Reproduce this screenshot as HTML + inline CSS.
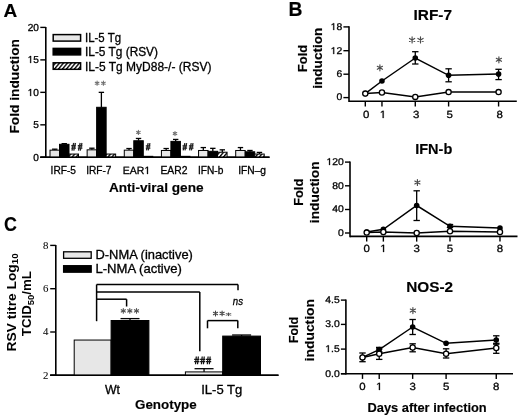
<!DOCTYPE html>
<html><head><meta charset="utf-8"><style>
html,body{margin:0;padding:0;background:#fff;}
svg{display:block;will-change:transform;}
svg{font-family:"Liberation Sans",sans-serif;}
</style></head><body>
<svg width="520" height="416" viewBox="0 0 520 416">
<defs>
<pattern id="hatch" patternUnits="userSpaceOnUse" width="3.05" height="3.05" patternTransform="rotate(40)">
<rect width="3.05" height="3.05" fill="#fff"/><rect width="1.35" height="3.05" fill="#000"/>
</pattern>
</defs>
<rect width="520" height="416" fill="#fff"/>
<text x="3.60" y="17.00" font-family="Liberation Sans" font-size="19" font-weight="bold" font-style="normal" text-anchor="start" fill="#000" stroke="#000" stroke-width="0.15">A</text>
<line x1="45.80" y1="27.00" x2="45.80" y2="158.05" stroke="#000" stroke-width="1.6"/>
<line x1="40.30" y1="157.30" x2="269.50" y2="157.30" stroke="#000" stroke-width="1.6"/>
<line x1="40.30" y1="27.40" x2="45.80" y2="27.40" stroke="#000" stroke-width="1.4"/>
<g transform="translate(38.90,31.00) scale(1.0,1)"><text x="-11.234" y="0" font-family="Liberation Sans" font-size="10.1" fill="#000" stroke="#000" stroke-width="0.300" text-rendering="geometricPrecision">20</text></g>
<line x1="40.30" y1="59.88" x2="45.80" y2="59.88" stroke="#000" stroke-width="1.4"/>
<g transform="translate(38.90,63.00) scale(1.0,1)"><path d="M-8.694,0.000L-8.694,-6.100L-10.263,-4.981L-10.263,-5.819L-8.621,-6.949L-7.802,-6.949L-7.802,0.000Z" fill="#000" stroke="#000" stroke-width="0.300"/><text x="-5.617" y="0" font-family="Liberation Sans" font-size="10.1" fill="#000" stroke="#000" stroke-width="0.300" text-rendering="geometricPrecision">5</text></g>
<line x1="40.30" y1="92.35" x2="45.80" y2="92.35" stroke="#000" stroke-width="1.4"/>
<g transform="translate(38.90,96.00) scale(1.0,1)"><path d="M-8.694,0.000L-8.694,-6.100L-10.263,-4.981L-10.263,-5.819L-8.621,-6.949L-7.802,-6.949L-7.802,0.000Z" fill="#000" stroke="#000" stroke-width="0.300"/><text x="-5.617" y="0" font-family="Liberation Sans" font-size="10.1" fill="#000" stroke="#000" stroke-width="0.300" text-rendering="geometricPrecision">0</text></g>
<line x1="40.30" y1="124.83" x2="45.80" y2="124.83" stroke="#000" stroke-width="1.4"/>
<g transform="translate(38.90,128.00) scale(1.0,1)"><text x="-5.617" y="0" font-family="Liberation Sans" font-size="10.1" fill="#000" stroke="#000" stroke-width="0.300" text-rendering="geometricPrecision">5</text></g>
<line x1="40.30" y1="157.30" x2="45.80" y2="157.30" stroke="#000" stroke-width="1.4"/>
<g transform="translate(38.90,161.00) scale(1.0,1)"><text x="-5.617" y="0" font-family="Liberation Sans" font-size="10.1" fill="#000" stroke="#000" stroke-width="0.300" text-rendering="geometricPrecision">0</text></g>
<rect x="53.20" y="34.60" width="27.40" height="6.50" fill="#e7e7e7" stroke="#000" stroke-width="1.5"/>
<rect x="53.20" y="48.40" width="27.40" height="6.50" fill="#000" stroke="#000" stroke-width="1.5"/>
<rect x="53.20" y="62.80" width="27.40" height="6.50" fill="url(#hatch)" stroke="#000" stroke-width="1.5"/>
<text x="85.00" y="42.30" font-family="Liberation Sans" font-size="12" font-weight="normal" font-style="normal" text-anchor="start" fill="#000" textLength="36" lengthAdjust="spacingAndGlyphs" stroke="#000" stroke-width="0.3">IL-5 Tg</text>
<text x="85.00" y="56.30" font-family="Liberation Sans" font-size="12" font-weight="normal" font-style="normal" text-anchor="start" fill="#000" textLength="73" lengthAdjust="spacingAndGlyphs" stroke="#000" stroke-width="0.3">IL-5 Tg (RSV)</text>
<text x="85.00" y="70.60" font-family="Liberation Sans" font-size="12" font-weight="normal" font-style="normal" text-anchor="start" fill="#000" textLength="126.4" lengthAdjust="spacingAndGlyphs" stroke="#000" stroke-width="0.3">IL-5 Tg MyD88-/- (RSV)</text>
<line x1="54.75" y1="150.16" x2="54.75" y2="149.18" stroke="#000" stroke-width="1.3"/>
<line x1="52.05" y1="149.18" x2="57.45" y2="149.18" stroke="#000" stroke-width="1.3"/>
<rect x="50.00" y="150.16" width="9.50" height="7.14" fill="#e7e7e7" stroke="#000" stroke-width="1.0"/>
<line x1="64.25" y1="144.31" x2="64.25" y2="143.66" stroke="#000" stroke-width="1.3"/>
<line x1="61.55" y1="143.66" x2="66.95" y2="143.66" stroke="#000" stroke-width="1.3"/>
<rect x="59.50" y="144.31" width="9.50" height="12.99" fill="#000" stroke="#000" stroke-width="1.0"/>
<rect x="69.00" y="154.05" width="9.50" height="3.25" fill="url(#hatch)" stroke="#000" stroke-width="1.0"/>
<line x1="91.89" y1="149.83" x2="91.89" y2="148.21" stroke="#000" stroke-width="1.3"/>
<line x1="89.19" y1="148.21" x2="94.59" y2="148.21" stroke="#000" stroke-width="1.3"/>
<rect x="87.14" y="149.83" width="9.50" height="7.47" fill="#e7e7e7" stroke="#000" stroke-width="1.0"/>
<line x1="101.39" y1="107.29" x2="101.39" y2="92.35" stroke="#000" stroke-width="1.3"/>
<line x1="98.69" y1="92.35" x2="104.09" y2="92.35" stroke="#000" stroke-width="1.3"/>
<rect x="96.64" y="107.29" width="9.50" height="50.01" fill="#000" stroke="#000" stroke-width="1.0"/>
<rect x="106.14" y="154.05" width="9.50" height="3.25" fill="url(#hatch)" stroke="#000" stroke-width="1.0"/>
<line x1="129.03" y1="150.16" x2="129.03" y2="148.53" stroke="#000" stroke-width="1.3"/>
<line x1="126.33" y1="148.53" x2="131.73" y2="148.53" stroke="#000" stroke-width="1.3"/>
<rect x="124.28" y="150.16" width="9.50" height="7.14" fill="#e7e7e7" stroke="#000" stroke-width="1.0"/>
<line x1="138.53" y1="140.74" x2="138.53" y2="138.46" stroke="#000" stroke-width="1.3"/>
<line x1="135.83" y1="138.46" x2="141.23" y2="138.46" stroke="#000" stroke-width="1.3"/>
<rect x="133.78" y="140.74" width="9.50" height="16.56" fill="#000" stroke="#000" stroke-width="1.0"/>
<rect x="143.28" y="156.33" width="9.50" height="0.97" fill="url(#hatch)" stroke="#000" stroke-width="1.0"/>
<line x1="166.17" y1="150.48" x2="166.17" y2="148.53" stroke="#000" stroke-width="1.3"/>
<line x1="163.47" y1="148.53" x2="168.87" y2="148.53" stroke="#000" stroke-width="1.3"/>
<rect x="161.42" y="150.48" width="9.50" height="6.82" fill="#e7e7e7" stroke="#000" stroke-width="1.0"/>
<line x1="175.67" y1="141.39" x2="175.67" y2="139.44" stroke="#000" stroke-width="1.3"/>
<line x1="172.97" y1="139.44" x2="178.37" y2="139.44" stroke="#000" stroke-width="1.3"/>
<rect x="170.92" y="141.39" width="9.50" height="15.91" fill="#000" stroke="#000" stroke-width="1.0"/>
<rect x="180.42" y="156.33" width="9.50" height="0.97" fill="url(#hatch)" stroke="#000" stroke-width="1.0"/>
<line x1="203.31" y1="150.48" x2="203.31" y2="147.56" stroke="#000" stroke-width="1.3"/>
<line x1="200.61" y1="147.56" x2="206.01" y2="147.56" stroke="#000" stroke-width="1.3"/>
<rect x="198.56" y="150.48" width="9.50" height="6.82" fill="#e7e7e7" stroke="#000" stroke-width="1.0"/>
<line x1="212.81" y1="151.32" x2="212.81" y2="148.34" stroke="#000" stroke-width="1.3"/>
<line x1="210.11" y1="148.34" x2="215.51" y2="148.34" stroke="#000" stroke-width="1.3"/>
<rect x="208.06" y="151.32" width="9.50" height="5.98" fill="#000" stroke="#000" stroke-width="1.0"/>
<line x1="222.31" y1="152.23" x2="222.31" y2="149.83" stroke="#000" stroke-width="1.3"/>
<line x1="219.61" y1="149.83" x2="225.01" y2="149.83" stroke="#000" stroke-width="1.3"/>
<rect x="217.56" y="152.23" width="9.50" height="5.07" fill="url(#hatch)" stroke="#000" stroke-width="1.0"/>
<line x1="240.45" y1="150.48" x2="240.45" y2="147.56" stroke="#000" stroke-width="1.3"/>
<line x1="237.75" y1="147.56" x2="243.15" y2="147.56" stroke="#000" stroke-width="1.3"/>
<rect x="235.70" y="150.48" width="9.50" height="6.82" fill="#e7e7e7" stroke="#000" stroke-width="1.0"/>
<line x1="249.95" y1="151.78" x2="249.95" y2="150.48" stroke="#000" stroke-width="1.3"/>
<line x1="247.25" y1="150.48" x2="252.65" y2="150.48" stroke="#000" stroke-width="1.3"/>
<rect x="245.20" y="151.78" width="9.50" height="5.52" fill="#000" stroke="#000" stroke-width="1.0"/>
<line x1="259.45" y1="154.05" x2="259.45" y2="152.43" stroke="#000" stroke-width="1.3"/>
<line x1="256.75" y1="152.43" x2="262.15" y2="152.43" stroke="#000" stroke-width="1.3"/>
<rect x="254.70" y="154.05" width="9.50" height="3.25" fill="url(#hatch)" stroke="#000" stroke-width="1.0"/>
<line x1="40.30" y1="157.30" x2="269.50" y2="157.30" stroke="#000" stroke-width="1.6"/>
<path d="M97.10,81.10L97.10,85.30M95.28,82.15L98.92,84.25M95.28,84.25L98.92,82.15" stroke="#707070" stroke-width="1.1" stroke-linecap="round"/>
<path d="M103.40,81.10L103.40,85.30M101.58,82.15L105.22,84.25M101.58,84.25L105.22,82.15" stroke="#707070" stroke-width="1.1" stroke-linecap="round"/>
<path d="M138.40,130.40L138.40,134.40M136.67,131.40L140.13,133.40M136.67,133.40L140.13,131.40" stroke="#707070" stroke-width="1.1" stroke-linecap="round"/>
<path d="M175.00,131.60L175.00,135.60M173.27,132.60L176.73,134.60M173.27,134.60L176.73,132.60" stroke="#707070" stroke-width="1.1" stroke-linecap="round"/>
<path d="M73.67,143.00L71.97,150.60M75.46,143.00L73.76,150.60M71.30,145.74L75.90,145.74M71.30,148.17L75.90,148.17" stroke="#222" stroke-width="1.3" fill="none"/>
<path d="M80.17,143.00L78.47,150.60M81.96,143.00L80.26,150.60M77.80,145.74L82.40,145.74M77.80,148.17L82.40,148.17" stroke="#222" stroke-width="1.3" fill="none"/>
<path d="M148.17,143.20L146.47,150.40M149.96,143.20L148.26,150.40M145.80,145.79L150.40,145.79M145.80,148.10L150.40,148.10" stroke="#222" stroke-width="1.3" fill="none"/>
<path d="M184.87,143.20L183.17,150.40M186.66,143.20L184.96,150.40M182.50,145.79L187.10,145.79M182.50,148.10L187.10,148.10" stroke="#222" stroke-width="1.3" fill="none"/>
<path d="M191.27,143.20L189.57,150.40M193.06,143.20L191.36,150.40M188.90,145.79L193.50,145.79M188.90,148.10L193.50,148.10" stroke="#222" stroke-width="1.3" fill="none"/>
<text x="50.60" y="174.40" font-family="Liberation Sans" font-size="10.2" font-weight="normal" font-style="normal" text-anchor="start" fill="#000" textLength="25.4" lengthAdjust="spacingAndGlyphs" stroke="#000" stroke-width="0.3">IRF-5</text>
<text x="86.20" y="174.40" font-family="Liberation Sans" font-size="10.2" font-weight="normal" font-style="normal" text-anchor="start" fill="#000" textLength="25.3" lengthAdjust="spacingAndGlyphs" stroke="#000" stroke-width="0.3">IRF-7</text>
<text x="160.40" y="174.40" font-family="Liberation Sans" font-size="10.2" font-weight="normal" font-style="normal" text-anchor="start" fill="#000" textLength="27" lengthAdjust="spacingAndGlyphs" stroke="#000" stroke-width="0.3">EAR2</text>
<text x="198.00" y="174.40" font-family="Liberation Sans" font-size="10.2" font-weight="normal" font-style="normal" text-anchor="start" fill="#000" textLength="25.4" lengthAdjust="spacingAndGlyphs" stroke="#000" stroke-width="0.3">IFN-b</text>
<text x="238.20" y="174.40" font-family="Liberation Sans" font-size="10.2" font-weight="normal" font-style="normal" text-anchor="start" fill="#000" textLength="27.8" lengthAdjust="spacingAndGlyphs" stroke="#000" stroke-width="0.3">IFN&#8211;g</text>
<g transform="translate(122.80,174.00) scale(1.0,1)"><text x="0.000" y="0" font-family="Liberation Sans" font-size="10.5" fill="#000" stroke="#000" stroke-width="0.300" text-rendering="geometricPrecision">EAR</text><path d="M24.230,0.000L24.230,-6.342L22.600,-5.178L22.600,-6.050L24.307,-7.224L25.158,-7.224L25.158,0.000Z" fill="#000" stroke="#000" stroke-width="0.300"/></g>
<text x="108.90" y="192.30" font-family="Liberation Sans" font-size="12.6" font-weight="bold" font-style="normal" text-anchor="start" fill="#000" textLength="94.7" lengthAdjust="spacingAndGlyphs" stroke="#000" stroke-width="0.15">Anti-viral gene</text>
<text transform="translate(19.20,86.30) rotate(-90)" x="0" y="0" font-family="Liberation Sans" font-size="13.7" font-weight="bold" font-style="normal" text-anchor="middle" fill="#000" textLength="94.5" lengthAdjust="spacingAndGlyphs" stroke="#000" stroke-width="0.15">Fold induction</text>
<text x="288.60" y="15.90" font-family="Liberation Sans" font-size="19.3" font-weight="bold" font-style="normal" text-anchor="start" fill="#000" stroke="#000" stroke-width="0.15">B</text>
<line x1="349.00" y1="26.30" x2="349.00" y2="102.05" stroke="#000" stroke-width="1.6"/>
<line x1="349.00" y1="101.30" x2="516.80" y2="101.30" stroke="#000" stroke-width="1.6"/>
<line x1="343.40" y1="26.90" x2="349.00" y2="26.90" stroke="#000" stroke-width="1.4"/>
<g transform="translate(342.20,30.00) scale(1.07,1)"><path d="M-8.350,0.000L-8.350,-5.859L-9.856,-4.784L-9.856,-5.589L-8.279,-6.673L-7.493,-6.673L-7.493,0.000Z" fill="#000" stroke="#000" stroke-width="0.280"/><text x="-5.395" y="0" font-family="Liberation Sans" font-size="9.7" fill="#000" stroke="#000" stroke-width="0.280" text-rendering="geometricPrecision">8</text></g>
<line x1="343.40" y1="50.70" x2="349.00" y2="50.70" stroke="#000" stroke-width="1.4"/>
<g transform="translate(342.20,54.00) scale(1.07,1)"><path d="M-8.350,0.000L-8.350,-5.859L-9.856,-4.784L-9.856,-5.589L-8.279,-6.673L-7.493,-6.673L-7.493,0.000Z" fill="#000" stroke="#000" stroke-width="0.280"/><text x="-5.395" y="0" font-family="Liberation Sans" font-size="9.7" fill="#000" stroke="#000" stroke-width="0.280" text-rendering="geometricPrecision">2</text></g>
<line x1="343.40" y1="74.20" x2="349.00" y2="74.20" stroke="#000" stroke-width="1.4"/>
<g transform="translate(342.20,77.00) scale(1.07,1)"><text x="-5.395" y="0" font-family="Liberation Sans" font-size="9.7" fill="#000" stroke="#000" stroke-width="0.280" text-rendering="geometricPrecision">6</text></g>
<line x1="343.40" y1="97.60" x2="349.00" y2="97.60" stroke="#000" stroke-width="1.4"/>
<g transform="translate(342.20,100.00) scale(1.07,1)"><text x="-5.395" y="0" font-family="Liberation Sans" font-size="9.7" fill="#000" stroke="#000" stroke-width="0.280" text-rendering="geometricPrecision">0</text></g>
<line x1="365.30" y1="101.30" x2="365.30" y2="106.50" stroke="#000" stroke-width="1.4"/>
<g transform="translate(366.30,118.00) scale(1.1,1)"><text x="-2.892" y="0" font-family="Liberation Sans" font-size="10.4" fill="#000" stroke="#000" stroke-width="0.273" text-rendering="geometricPrecision">0</text></g>
<line x1="381.96" y1="101.30" x2="381.96" y2="106.50" stroke="#000" stroke-width="1.4"/>
<g transform="translate(382.96,118.00) scale(1.1,1)"><path d="M-0.277,0.000L-0.277,-6.282L-1.892,-5.129L-1.892,-5.992L-0.201,-7.155L0.642,-7.155L0.642,0.000Z" fill="#000" stroke="#000" stroke-width="0.273"/></g>
<line x1="415.28" y1="101.30" x2="415.28" y2="106.50" stroke="#000" stroke-width="1.4"/>
<g transform="translate(416.28,118.00) scale(1.1,1)"><text x="-2.892" y="0" font-family="Liberation Sans" font-size="10.4" fill="#000" stroke="#000" stroke-width="0.273" text-rendering="geometricPrecision">3</text></g>
<line x1="448.60" y1="101.30" x2="448.60" y2="106.50" stroke="#000" stroke-width="1.4"/>
<g transform="translate(449.60,118.00) scale(1.1,1)"><text x="-2.892" y="0" font-family="Liberation Sans" font-size="10.4" fill="#000" stroke="#000" stroke-width="0.273" text-rendering="geometricPrecision">5</text></g>
<line x1="498.58" y1="101.30" x2="498.58" y2="106.50" stroke="#000" stroke-width="1.4"/>
<g transform="translate(499.58,118.00) scale(1.1,1)"><text x="-2.892" y="0" font-family="Liberation Sans" font-size="10.4" fill="#000" stroke="#000" stroke-width="0.273" text-rendering="geometricPrecision">8</text></g>
<text x="413.50" y="19.80" font-family="Liberation Sans" font-size="14.5" font-weight="bold" font-style="normal" text-anchor="start" fill="#000" textLength="38.5" lengthAdjust="spacingAndGlyphs" stroke="#000" stroke-width="0.15">IRF-7</text>
<text transform="translate(307.30,58.50) rotate(-90)" x="0" y="0" font-family="Liberation Sans" font-size="12.8" font-weight="bold" font-style="normal" text-anchor="middle" fill="#000" textLength="27.1" lengthAdjust="spacingAndGlyphs" stroke="#000" stroke-width="0.15">Fold</text>
<text transform="translate(322.30,58.20) rotate(-90)" x="0" y="0" font-family="Liberation Sans" font-size="12.8" font-weight="bold" font-style="normal" text-anchor="middle" fill="#000" textLength="61.2" lengthAdjust="spacingAndGlyphs" stroke="#000" stroke-width="0.15">induction</text>
<polyline points="365.30,93.60 381.96,92.50 415.28,96.90 448.60,92.10 498.58,92.10" fill="none" stroke="#000" stroke-width="1.5"/>
<polyline points="365.30,93.60 381.96,81.00 415.28,58.00 448.60,75.30 498.58,74.10" fill="none" stroke="#000" stroke-width="1.5"/>
<line x1="415.28" y1="51.70" x2="415.28" y2="64.00" stroke="#000" stroke-width="1.3"/>
<line x1="412.08" y1="51.70" x2="418.48" y2="51.70" stroke="#000" stroke-width="1.3"/>
<line x1="412.08" y1="64.00" x2="418.48" y2="64.00" stroke="#000" stroke-width="1.3"/>
<line x1="448.60" y1="68.80" x2="448.60" y2="81.80" stroke="#000" stroke-width="1.3"/>
<line x1="445.40" y1="68.80" x2="451.80" y2="68.80" stroke="#000" stroke-width="1.3"/>
<line x1="445.40" y1="81.80" x2="451.80" y2="81.80" stroke="#000" stroke-width="1.3"/>
<line x1="498.58" y1="69.30" x2="498.58" y2="79.60" stroke="#000" stroke-width="1.3"/>
<line x1="495.38" y1="69.30" x2="501.78" y2="69.30" stroke="#000" stroke-width="1.3"/>
<line x1="495.38" y1="79.60" x2="501.78" y2="79.60" stroke="#000" stroke-width="1.3"/>
<circle cx="365.30" cy="93.60" r="2.8" fill="#000"/>
<circle cx="381.96" cy="81.00" r="2.8" fill="#000"/>
<circle cx="415.28" cy="58.00" r="2.8" fill="#000"/>
<circle cx="448.60" cy="75.30" r="2.8" fill="#000"/>
<circle cx="498.58" cy="74.10" r="2.8" fill="#000"/>
<circle cx="365.30" cy="93.60" r="2.6" fill="#fff" stroke="#000" stroke-width="1.3"/>
<circle cx="381.96" cy="92.50" r="2.6" fill="#fff" stroke="#000" stroke-width="1.3"/>
<circle cx="415.28" cy="96.90" r="2.6" fill="#fff" stroke="#000" stroke-width="1.3"/>
<circle cx="448.60" cy="92.10" r="2.6" fill="#fff" stroke="#000" stroke-width="1.3"/>
<circle cx="498.58" cy="92.10" r="2.6" fill="#fff" stroke="#000" stroke-width="1.3"/>
<path d="M379.90,64.80L379.90,70.80M377.30,66.30L382.50,69.30M377.30,69.30L382.50,66.30" stroke="#4a4a4a" stroke-width="1.15" stroke-linecap="round"/>
<path d="M412.10,36.90L412.10,42.90M409.50,38.40L414.70,41.40M409.50,41.40L414.70,38.40" stroke="#4a4a4a" stroke-width="1.15" stroke-linecap="round"/>
<path d="M420.50,36.90L420.50,42.90M417.90,38.40L423.10,41.40M417.90,41.40L423.10,38.40" stroke="#4a4a4a" stroke-width="1.15" stroke-linecap="round"/>
<path d="M498.90,56.80L498.90,62.80M496.30,58.30L501.50,61.30M496.30,61.30L501.50,58.30" stroke="#4a4a4a" stroke-width="1.15" stroke-linecap="round"/>
<line x1="350.00" y1="161.50" x2="350.00" y2="237.15" stroke="#000" stroke-width="1.6"/>
<line x1="350.00" y1="236.40" x2="517.50" y2="236.40" stroke="#000" stroke-width="1.6"/>
<line x1="345.00" y1="162.10" x2="350.00" y2="162.10" stroke="#000" stroke-width="1.4"/>
<g transform="translate(343.80,165.00) scale(1.07,1)"><path d="M-13.745,0.000L-13.745,-5.859L-15.251,-4.784L-15.251,-5.589L-13.674,-6.673L-12.888,-6.673L-12.888,0.000Z" fill="#000" stroke="#000" stroke-width="0.280"/><text x="-10.789" y="0" font-family="Liberation Sans" font-size="9.7" fill="#000" stroke="#000" stroke-width="0.280" text-rendering="geometricPrecision">20</text></g>
<line x1="345.00" y1="185.80" x2="350.00" y2="185.80" stroke="#000" stroke-width="1.4"/>
<g transform="translate(343.80,189.00) scale(1.07,1)"><text x="-10.789" y="0" font-family="Liberation Sans" font-size="9.7" fill="#000" stroke="#000" stroke-width="0.280" text-rendering="geometricPrecision">80</text></g>
<line x1="345.00" y1="209.50" x2="350.00" y2="209.50" stroke="#000" stroke-width="1.4"/>
<g transform="translate(343.80,212.00) scale(1.07,1)"><text x="-10.789" y="0" font-family="Liberation Sans" font-size="9.7" fill="#000" stroke="#000" stroke-width="0.280" text-rendering="geometricPrecision">40</text></g>
<line x1="345.00" y1="233.00" x2="350.00" y2="233.00" stroke="#000" stroke-width="1.4"/>
<g transform="translate(343.80,236.00) scale(1.07,1)"><text x="-5.395" y="0" font-family="Liberation Sans" font-size="9.7" fill="#000" stroke="#000" stroke-width="0.280" text-rendering="geometricPrecision">0</text></g>
<line x1="366.70" y1="236.40" x2="366.70" y2="241.60" stroke="#000" stroke-width="1.4"/>
<g transform="translate(366.70,252.00) scale(1.1,1)"><text x="-2.892" y="0" font-family="Liberation Sans" font-size="10.4" fill="#000" stroke="#000" stroke-width="0.273" text-rendering="geometricPrecision">0</text></g>
<line x1="383.36" y1="236.40" x2="383.36" y2="241.60" stroke="#000" stroke-width="1.4"/>
<g transform="translate(383.36,252.00) scale(1.1,1)"><path d="M-0.277,0.000L-0.277,-6.282L-1.892,-5.129L-1.892,-5.992L-0.201,-7.155L0.642,-7.155L0.642,0.000Z" fill="#000" stroke="#000" stroke-width="0.273"/></g>
<line x1="416.68" y1="236.40" x2="416.68" y2="241.60" stroke="#000" stroke-width="1.4"/>
<g transform="translate(416.68,252.00) scale(1.1,1)"><text x="-2.892" y="0" font-family="Liberation Sans" font-size="10.4" fill="#000" stroke="#000" stroke-width="0.273" text-rendering="geometricPrecision">3</text></g>
<line x1="450.00" y1="236.40" x2="450.00" y2="241.60" stroke="#000" stroke-width="1.4"/>
<g transform="translate(450.00,252.00) scale(1.1,1)"><text x="-2.892" y="0" font-family="Liberation Sans" font-size="10.4" fill="#000" stroke="#000" stroke-width="0.273" text-rendering="geometricPrecision">5</text></g>
<line x1="499.98" y1="236.40" x2="499.98" y2="241.60" stroke="#000" stroke-width="1.4"/>
<g transform="translate(499.98,252.00) scale(1.1,1)"><text x="-2.892" y="0" font-family="Liberation Sans" font-size="10.4" fill="#000" stroke="#000" stroke-width="0.273" text-rendering="geometricPrecision">8</text></g>
<text x="415.20" y="154.20" font-family="Liberation Sans" font-size="14.5" font-weight="bold" font-style="normal" text-anchor="start" fill="#000" textLength="37.1" lengthAdjust="spacingAndGlyphs" stroke="#000" stroke-width="0.15">IFN-b</text>
<text transform="translate(302.60,192.30) rotate(-90)" x="0" y="0" font-family="Liberation Sans" font-size="12.8" font-weight="bold" font-style="normal" text-anchor="middle" fill="#000" textLength="27.1" lengthAdjust="spacingAndGlyphs" stroke="#000" stroke-width="0.15">Fold</text>
<text transform="translate(319.20,192.30) rotate(-90)" x="0" y="0" font-family="Liberation Sans" font-size="12.8" font-weight="bold" font-style="normal" text-anchor="middle" fill="#000" textLength="61.7" lengthAdjust="spacingAndGlyphs" stroke="#000" stroke-width="0.15">induction</text>
<polyline points="366.70,232.60 383.36,232.00 416.68,233.00 450.00,231.30 499.98,232.00" fill="none" stroke="#000" stroke-width="1.5"/>
<polyline points="366.70,232.00 383.36,229.30 416.68,205.50 450.00,226.30 499.98,228.00" fill="none" stroke="#000" stroke-width="1.5"/>
<line x1="416.68" y1="190.80" x2="416.68" y2="220.50" stroke="#000" stroke-width="1.3"/>
<line x1="413.48" y1="190.80" x2="419.88" y2="190.80" stroke="#000" stroke-width="1.3"/>
<line x1="413.48" y1="220.50" x2="419.88" y2="220.50" stroke="#000" stroke-width="1.3"/>
<line x1="450.00" y1="224.50" x2="450.00" y2="227.50" stroke="#000" stroke-width="1.3"/>
<line x1="446.80" y1="224.50" x2="453.20" y2="224.50" stroke="#000" stroke-width="1.3"/>
<line x1="446.80" y1="227.50" x2="453.20" y2="227.50" stroke="#000" stroke-width="1.3"/>
<circle cx="366.70" cy="232.00" r="2.8" fill="#000"/>
<circle cx="383.36" cy="229.30" r="2.8" fill="#000"/>
<circle cx="416.68" cy="205.50" r="2.8" fill="#000"/>
<circle cx="450.00" cy="226.30" r="2.8" fill="#000"/>
<circle cx="499.98" cy="228.00" r="2.8" fill="#000"/>
<circle cx="366.70" cy="232.60" r="2.6" fill="#fff" stroke="#000" stroke-width="1.3"/>
<circle cx="383.36" cy="232.00" r="2.6" fill="#fff" stroke="#000" stroke-width="1.3"/>
<circle cx="416.68" cy="233.00" r="2.6" fill="#fff" stroke="#000" stroke-width="1.3"/>
<circle cx="450.00" cy="231.30" r="2.6" fill="#fff" stroke="#000" stroke-width="1.3"/>
<circle cx="499.98" cy="232.00" r="2.6" fill="#fff" stroke="#000" stroke-width="1.3"/>
<path d="M417.40,179.50L417.40,185.50M414.80,181.00L420.00,184.00M414.80,184.00L420.00,181.00" stroke="#4a4a4a" stroke-width="1.15" stroke-linecap="round"/>
<line x1="345.90" y1="299.50" x2="345.90" y2="374.45" stroke="#000" stroke-width="1.6"/>
<line x1="340.90" y1="373.70" x2="513.00" y2="373.70" stroke="#000" stroke-width="1.6"/>
<line x1="340.90" y1="300.10" x2="345.90" y2="300.10" stroke="#000" stroke-width="1.4"/>
<g transform="translate(339.70,303.00) scale(1.07,1)"><text x="-13.484" y="0" font-family="Liberation Sans" font-size="9.7" fill="#000" stroke="#000" stroke-width="0.280" text-rendering="geometricPrecision">4.5</text></g>
<line x1="340.90" y1="324.40" x2="345.90" y2="324.40" stroke="#000" stroke-width="1.4"/>
<g transform="translate(339.70,327.00) scale(1.07,1)"><text x="-13.484" y="0" font-family="Liberation Sans" font-size="9.7" fill="#000" stroke="#000" stroke-width="0.280" text-rendering="geometricPrecision">3.0</text></g>
<line x1="340.90" y1="349.10" x2="345.90" y2="349.10" stroke="#000" stroke-width="1.4"/>
<g transform="translate(339.70,352.00) scale(1.07,1)"><path d="M-11.045,0.000L-11.045,-5.859L-12.551,-4.784L-12.551,-5.589L-10.974,-6.673L-10.188,-6.673L-10.188,0.000Z" fill="#000" stroke="#000" stroke-width="0.280"/><text x="-8.090" y="0" font-family="Liberation Sans" font-size="9.7" fill="#000" stroke="#000" stroke-width="0.280" text-rendering="geometricPrecision">.5</text></g>
<line x1="340.90" y1="373.70" x2="345.90" y2="373.70" stroke="#000" stroke-width="1.4"/>
<g transform="translate(339.70,377.00) scale(1.07,1)"><text x="-13.484" y="0" font-family="Liberation Sans" font-size="9.7" fill="#000" stroke="#000" stroke-width="0.280" text-rendering="geometricPrecision">0.0</text></g>
<line x1="362.50" y1="373.70" x2="362.50" y2="378.90" stroke="#000" stroke-width="1.4"/>
<g transform="translate(362.50,390.00) scale(1.1,1)"><text x="-2.892" y="0" font-family="Liberation Sans" font-size="10.4" fill="#000" stroke="#000" stroke-width="0.273" text-rendering="geometricPrecision">0</text></g>
<line x1="379.22" y1="373.70" x2="379.22" y2="378.90" stroke="#000" stroke-width="1.4"/>
<g transform="translate(379.22,390.00) scale(1.1,1)"><path d="M-0.277,0.000L-0.277,-6.282L-1.892,-5.129L-1.892,-5.992L-0.201,-7.155L0.642,-7.155L0.642,0.000Z" fill="#000" stroke="#000" stroke-width="0.273"/></g>
<line x1="412.66" y1="373.70" x2="412.66" y2="378.90" stroke="#000" stroke-width="1.4"/>
<g transform="translate(412.66,390.00) scale(1.1,1)"><text x="-2.892" y="0" font-family="Liberation Sans" font-size="10.4" fill="#000" stroke="#000" stroke-width="0.273" text-rendering="geometricPrecision">3</text></g>
<line x1="446.10" y1="373.70" x2="446.10" y2="378.90" stroke="#000" stroke-width="1.4"/>
<g transform="translate(446.10,390.00) scale(1.1,1)"><text x="-2.892" y="0" font-family="Liberation Sans" font-size="10.4" fill="#000" stroke="#000" stroke-width="0.273" text-rendering="geometricPrecision">5</text></g>
<line x1="496.26" y1="373.70" x2="496.26" y2="378.90" stroke="#000" stroke-width="1.4"/>
<g transform="translate(496.26,390.00) scale(1.1,1)"><text x="-2.892" y="0" font-family="Liberation Sans" font-size="10.4" fill="#000" stroke="#000" stroke-width="0.273" text-rendering="geometricPrecision">8</text></g>
<text x="406.20" y="292.30" font-family="Liberation Sans" font-size="14.5" font-weight="bold" font-style="normal" text-anchor="start" fill="#000" textLength="46.9" lengthAdjust="spacingAndGlyphs" stroke="#000" stroke-width="0.15">NOS-2</text>
<text transform="translate(298.40,330.00) rotate(-90)" x="0" y="0" font-family="Liberation Sans" font-size="12.8" font-weight="bold" font-style="normal" text-anchor="middle" fill="#000" textLength="26.0" lengthAdjust="spacingAndGlyphs" stroke="#000" stroke-width="0.15">Fold</text>
<text transform="translate(314.20,330.20) rotate(-90)" x="0" y="0" font-family="Liberation Sans" font-size="12.8" font-weight="bold" font-style="normal" text-anchor="middle" fill="#000" textLength="62.4" lengthAdjust="spacingAndGlyphs" stroke="#000" stroke-width="0.15">induction</text>
<polyline points="362.50,357.40 379.22,353.80 412.66,347.50 446.10,353.80 496.26,348.00" fill="none" stroke="#000" stroke-width="1.5"/>
<polyline points="362.50,357.40 379.22,349.60 412.66,327.00 446.10,343.30 496.26,340.00" fill="none" stroke="#000" stroke-width="1.5"/>
<line x1="379.22" y1="347.40" x2="379.22" y2="351.80" stroke="#000" stroke-width="1.3"/>
<line x1="376.02" y1="347.40" x2="382.42" y2="347.40" stroke="#000" stroke-width="1.3"/>
<line x1="376.02" y1="351.80" x2="382.42" y2="351.80" stroke="#000" stroke-width="1.3"/>
<line x1="412.66" y1="319.50" x2="412.66" y2="334.50" stroke="#000" stroke-width="1.3"/>
<line x1="409.46" y1="319.50" x2="415.86" y2="319.50" stroke="#000" stroke-width="1.3"/>
<line x1="409.46" y1="334.50" x2="415.86" y2="334.50" stroke="#000" stroke-width="1.3"/>
<line x1="496.26" y1="335.80" x2="496.26" y2="344.20" stroke="#000" stroke-width="1.3"/>
<line x1="493.06" y1="335.80" x2="499.46" y2="335.80" stroke="#000" stroke-width="1.3"/>
<line x1="493.06" y1="344.20" x2="499.46" y2="344.20" stroke="#000" stroke-width="1.3"/>
<line x1="362.50" y1="353.00" x2="362.50" y2="361.70" stroke="#000" stroke-width="1.3"/>
<line x1="359.30" y1="353.00" x2="365.70" y2="353.00" stroke="#000" stroke-width="1.3"/>
<line x1="359.30" y1="361.70" x2="365.70" y2="361.70" stroke="#000" stroke-width="1.3"/>
<line x1="379.22" y1="349.00" x2="379.22" y2="359.40" stroke="#000" stroke-width="1.3"/>
<line x1="376.02" y1="349.00" x2="382.42" y2="349.00" stroke="#000" stroke-width="1.3"/>
<line x1="376.02" y1="359.40" x2="382.42" y2="359.40" stroke="#000" stroke-width="1.3"/>
<line x1="412.66" y1="343.80" x2="412.66" y2="351.80" stroke="#000" stroke-width="1.3"/>
<line x1="409.46" y1="343.80" x2="415.86" y2="343.80" stroke="#000" stroke-width="1.3"/>
<line x1="409.46" y1="351.80" x2="415.86" y2="351.80" stroke="#000" stroke-width="1.3"/>
<line x1="446.10" y1="348.80" x2="446.10" y2="358.00" stroke="#000" stroke-width="1.3"/>
<line x1="442.90" y1="348.80" x2="449.30" y2="348.80" stroke="#000" stroke-width="1.3"/>
<line x1="442.90" y1="358.00" x2="449.30" y2="358.00" stroke="#000" stroke-width="1.3"/>
<line x1="496.26" y1="343.30" x2="496.26" y2="353.30" stroke="#000" stroke-width="1.3"/>
<line x1="493.06" y1="343.30" x2="499.46" y2="343.30" stroke="#000" stroke-width="1.3"/>
<line x1="493.06" y1="353.30" x2="499.46" y2="353.30" stroke="#000" stroke-width="1.3"/>
<circle cx="362.50" cy="357.40" r="2.8" fill="#000"/>
<circle cx="379.22" cy="349.60" r="2.8" fill="#000"/>
<circle cx="412.66" cy="327.00" r="2.8" fill="#000"/>
<circle cx="446.10" cy="343.30" r="2.8" fill="#000"/>
<circle cx="496.26" cy="340.00" r="2.8" fill="#000"/>
<circle cx="362.50" cy="357.40" r="2.6" fill="#fff" stroke="#000" stroke-width="1.3"/>
<circle cx="379.22" cy="353.80" r="2.6" fill="#fff" stroke="#000" stroke-width="1.3"/>
<circle cx="412.66" cy="347.50" r="2.6" fill="#fff" stroke="#000" stroke-width="1.3"/>
<circle cx="446.10" cy="353.80" r="2.6" fill="#fff" stroke="#000" stroke-width="1.3"/>
<circle cx="496.26" cy="348.00" r="2.6" fill="#fff" stroke="#000" stroke-width="1.3"/>
<path d="M412.90,307.60L412.90,313.60M410.30,309.10L415.50,312.10M410.30,312.10L415.50,309.10" stroke="#4a4a4a" stroke-width="1.15" stroke-linecap="round"/>
<text x="367.50" y="411.70" font-family="Liberation Sans" font-size="12.8" font-weight="bold" font-style="normal" text-anchor="start" fill="#000" textLength="119.2" lengthAdjust="spacingAndGlyphs" stroke="#000" stroke-width="0.15">Days after infection</text>
<text x="3.90" y="231.00" font-family="Liberation Sans" font-size="20" font-weight="bold" font-style="normal" text-anchor="start" fill="#000" textLength="12.9" lengthAdjust="spacingAndGlyphs" stroke="#000" stroke-width="0.15">C</text>
<line x1="55.80" y1="245.00" x2="55.80" y2="376.05" stroke="#000" stroke-width="1.6"/>
<line x1="50.20" y1="375.30" x2="278.50" y2="375.30" stroke="#000" stroke-width="1.6"/>
<line x1="50.20" y1="245.40" x2="55.80" y2="245.40" stroke="#000" stroke-width="1.4"/>
<text x="48.40" y="248.60" font-family="Liberation Serif" font-size="10.8" font-weight="normal" font-style="normal" text-anchor="end" fill="#000" stroke="#000" stroke-width="0.05">8</text>
<line x1="50.20" y1="288.70" x2="55.80" y2="288.70" stroke="#000" stroke-width="1.4"/>
<text x="48.40" y="291.90" font-family="Liberation Serif" font-size="10.8" font-weight="normal" font-style="normal" text-anchor="end" fill="#000" stroke="#000" stroke-width="0.05">6</text>
<line x1="50.20" y1="332.00" x2="55.80" y2="332.00" stroke="#000" stroke-width="1.4"/>
<text x="48.40" y="335.20" font-family="Liberation Serif" font-size="10.8" font-weight="normal" font-style="normal" text-anchor="end" fill="#000" stroke="#000" stroke-width="0.05">4</text>
<line x1="50.20" y1="375.30" x2="55.80" y2="375.30" stroke="#000" stroke-width="1.4"/>
<text x="48.40" y="378.50" font-family="Liberation Serif" font-size="10.8" font-weight="normal" font-style="normal" text-anchor="end" fill="#000" stroke="#000" stroke-width="0.05">2</text>
<rect x="63.60" y="251.80" width="27.60" height="6.50" fill="#e7e7e7" stroke="#000" stroke-width="1.3"/>
<rect x="63.60" y="265.70" width="27.60" height="6.50" fill="#000" stroke="#000" stroke-width="1.3"/>
<text x="95.50" y="258.60" font-family="Liberation Sans" font-size="12.2" font-weight="normal" font-style="normal" text-anchor="start" fill="#000" textLength="97.4" lengthAdjust="spacingAndGlyphs" stroke="#000" stroke-width="0.3">D-NMA (inactive)</text>
<text x="95.50" y="272.60" font-family="Liberation Sans" font-size="12.2" font-weight="normal" font-style="normal" text-anchor="start" fill="#000" textLength="86.4" lengthAdjust="spacingAndGlyphs" stroke="#000" stroke-width="0.3">L-NMA (active)</text>
<rect x="74.20" y="340.05" width="36.90" height="35.25" fill="#e7e7e7" stroke="#000" stroke-width="1.0"/>
<line x1="120.50" y1="318.60" x2="139.50" y2="318.60" stroke="#000" stroke-width="1.3"/>
<line x1="130.00" y1="318.60" x2="130.00" y2="320.50" stroke="#000" stroke-width="1.3"/>
<rect x="111.10" y="320.50" width="37.80" height="54.80" fill="#000" stroke="#000" stroke-width="1.0"/>
<line x1="194.55" y1="368.70" x2="213.55" y2="368.70" stroke="#000" stroke-width="1.3"/>
<line x1="204.05" y1="368.70" x2="204.05" y2="371.90" stroke="#000" stroke-width="1.3"/>
<rect x="185.40" y="371.90" width="37.30" height="3.40" fill="#e7e7e7" stroke="#000" stroke-width="1.0"/>
<line x1="232.10" y1="335.01" x2="251.10" y2="335.01" stroke="#000" stroke-width="1.3"/>
<line x1="241.60" y1="335.01" x2="241.60" y2="336.09" stroke="#000" stroke-width="1.3"/>
<rect x="222.70" y="336.09" width="37.80" height="39.21" fill="#000" stroke="#000" stroke-width="1.0"/>
<line x1="50.20" y1="375.30" x2="278.50" y2="375.30" stroke="#000" stroke-width="1.6"/>
<line x1="96.60" y1="284.50" x2="96.60" y2="321.20" stroke="#000" stroke-width="1.5"/>
<line x1="96.60" y1="284.50" x2="238.00" y2="284.50" stroke="#000" stroke-width="1.5"/>
<line x1="238.00" y1="284.50" x2="238.00" y2="290.20" stroke="#000" stroke-width="1.5"/>
<line x1="96.60" y1="291.90" x2="199.80" y2="291.90" stroke="#000" stroke-width="1.5"/>
<line x1="199.80" y1="291.90" x2="199.80" y2="351.30" stroke="#000" stroke-width="1.5"/>
<line x1="96.60" y1="299.20" x2="126.60" y2="299.20" stroke="#000" stroke-width="1.5"/>
<line x1="126.60" y1="299.20" x2="126.60" y2="306.50" stroke="#000" stroke-width="1.5"/>
<line x1="207.50" y1="320.60" x2="237.80" y2="320.60" stroke="#000" stroke-width="1.5"/>
<line x1="207.50" y1="320.60" x2="207.50" y2="328.30" stroke="#000" stroke-width="1.5"/>
<line x1="237.80" y1="320.60" x2="237.80" y2="328.30" stroke="#000" stroke-width="1.5"/>
<path d="M123.30,308.50L123.30,313.30M121.22,309.70L125.38,312.10M121.22,312.10L125.38,309.70" stroke="#555" stroke-width="1.1" stroke-linecap="round"/>
<path d="M129.80,308.50L129.80,313.30M127.72,309.70L131.88,312.10M127.72,312.10L131.88,309.70" stroke="#555" stroke-width="1.1" stroke-linecap="round"/>
<path d="M136.50,308.50L136.50,313.30M134.42,309.70L138.58,312.10M134.42,312.10L138.58,309.70" stroke="#555" stroke-width="1.1" stroke-linecap="round"/>
<path d="M215.50,311.10L215.50,315.90M213.42,312.30L217.58,314.70M213.42,314.70L217.58,312.30" stroke="#444" stroke-width="1.1" stroke-linecap="round"/>
<path d="M222.10,311.00L222.10,315.80M220.02,312.20L224.18,314.60M220.02,314.60L224.18,312.20" stroke="#444" stroke-width="1.1" stroke-linecap="round"/>
<g transform="translate(228.5,314.3) scale(1.1,0.65)">
<path d="M-0.00,-2.40L0.00,2.40M-2.08,-1.20L2.08,1.20M-2.08,1.20L2.08,-1.20" stroke="#444" stroke-width="1.1" stroke-linecap="round"/>
</g>
<text x="232.80" y="305.00" font-family="Liberation Sans" font-size="11" font-weight="normal" font-style="italic" text-anchor="start" fill="#000" textLength="10.2" lengthAdjust="spacingAndGlyphs" stroke="#000" stroke-width="0.3">ns</text>
<path d="M196.32,356.50L195.52,364.20M198.34,356.50L197.54,364.20M194.20,359.27L199.40,359.27M194.20,361.74L199.40,361.74" stroke="#111" stroke-width="1.25" fill="none"/>
<path d="M202.22,356.50L201.42,364.20M204.24,356.50L203.44,364.20M200.10,359.27L205.30,359.27M200.10,361.74L205.30,361.74" stroke="#111" stroke-width="1.25" fill="none"/>
<path d="M208.12,356.50L207.32,364.20M210.14,356.50L209.34,364.20M206.00,359.27L211.20,359.27M206.00,361.74L211.20,361.74" stroke="#111" stroke-width="1.25" fill="none"/>
<text x="105.00" y="393.50" font-family="Liberation Sans" font-size="12.2" font-weight="normal" font-style="normal" text-anchor="start" fill="#000" textLength="15" lengthAdjust="spacingAndGlyphs" stroke="#000" stroke-width="0.3">Wt</text>
<text x="201.20" y="393.50" font-family="Liberation Sans" font-size="12.2" font-weight="normal" font-style="normal" text-anchor="start" fill="#000" textLength="41.1" lengthAdjust="spacingAndGlyphs" stroke="#000" stroke-width="0.3">IL-5 Tg</text>
<text x="135.00" y="409.20" font-family="Liberation Sans" font-size="13" font-weight="bold" font-style="normal" text-anchor="start" fill="#000" textLength="61.7" lengthAdjust="spacingAndGlyphs" stroke="#000" stroke-width="0.15">Genotype</text>
<text transform="translate(15.6,302.4) rotate(-90)" font-family="Liberation Sans" font-size="12.6" font-weight="bold" text-anchor="middle" textLength="98" lengthAdjust="spacingAndGlyphs">RSV titre Log<tspan font-size="9" dy="2.5">10</tspan></text>
<text transform="translate(31.4,303.7) rotate(-90)" font-family="Liberation Sans" font-size="12.6" font-weight="bold" text-anchor="middle" textLength="65" lengthAdjust="spacingAndGlyphs">TCID<tspan font-size="9" dy="2.5">50</tspan><tspan dy="-2.5">/mL</tspan></text>
</svg>
</body></html>
